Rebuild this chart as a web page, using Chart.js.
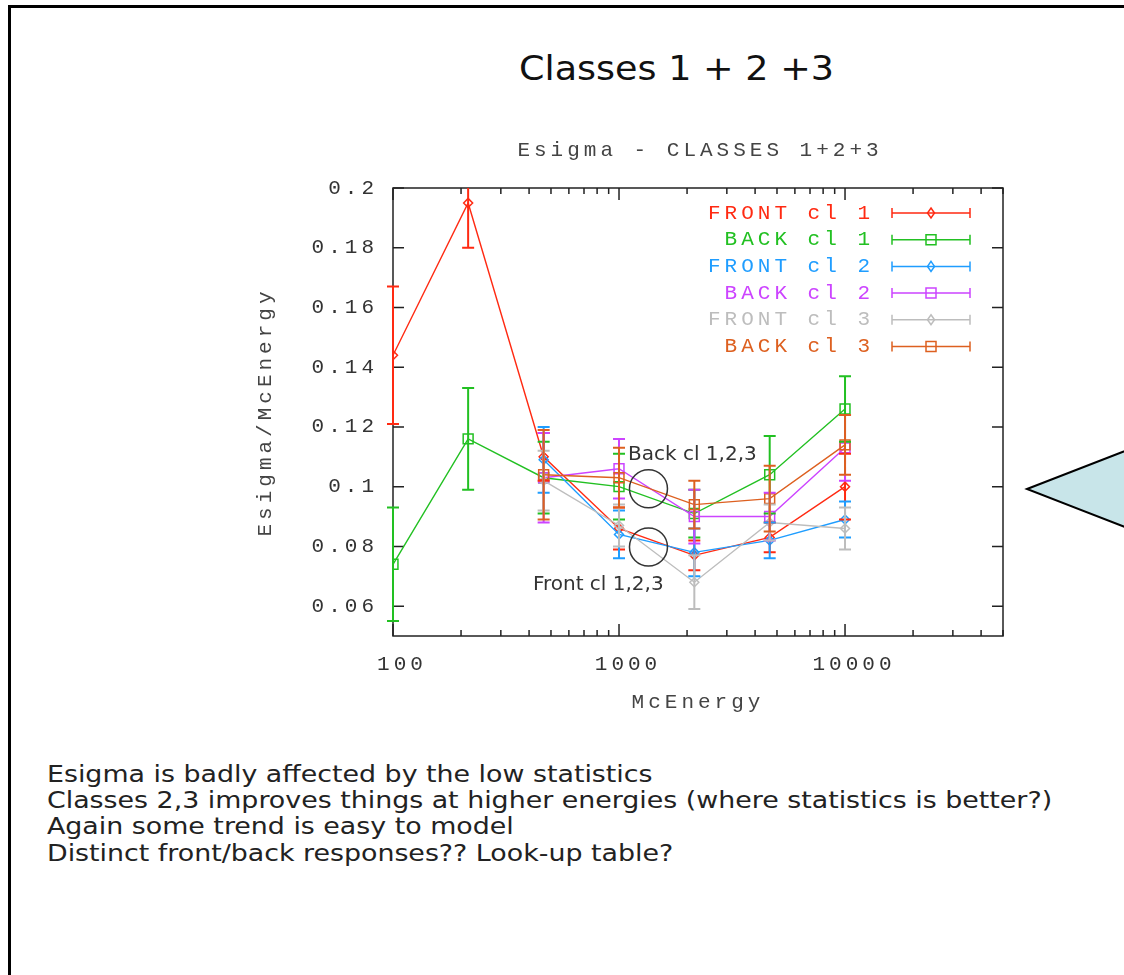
<!DOCTYPE html>
<html>
<head>
<meta charset="utf-8">
<title>Classes 1 + 2 +3</title>
<script src="https://cdn.jsdelivr.net/npm/chart.js@4.4.1/dist/chart.umd.min.js"></script>
<style>
  html, body { margin: 0; padding: 0; background: #fff; }
  body { width: 1124px; height: 975px; position: relative; overflow: hidden; }
  #slide, #plot { position: absolute; left: 0; top: 0; }
</style>
</head>
<body>
<svg id="slide" width="1124" height="975" font-family="'DejaVu Sans', sans-serif">
  <path d="M9.5 990 V6.5 H1130" fill="none" stroke="#000" stroke-width="3"/>
  <polygon points="1027,489 1130,449 1130,529" fill="#c8e5e9" stroke="#000" stroke-width="2"/>
  <text x="519" y="80" font-size="34" fill="#111" textLength="315" lengthAdjust="spacingAndGlyphs">Classes 1 + 2 +3</text>
  <g font-size="23" fill="#222" transform="translate(47 0) scale(1.167 1) translate(-47 0)">
    <text x="47" y="782">Esigma is badly affected by the low statistics</text>
    <text x="47" y="808">Classes 2,3 improves things at higher energies (where statistics is better?)</text>
    <text x="47" y="834.5">Again some trend is easy to model</text>
    <text x="47" y="861">Distinct front/back responses?? Look-up table?</text>
  </g>
</svg>
<canvas id="plot" width="1124" height="975"></canvas>
<script>
// energies (McEnergy) and Esigma/McEnergy per class, with errors
const energies = [100, 215, 464, 1000, 2154, 4642, 10000];

const frontCl1    = [0.144, 0.195, 0.110, 0.086, 0.077, 0.083, 0.100];
const frontCl1Err = [0.023, 0.015, 0.008, 0.007, 0.005, 0.005, 0.011];
const backCl1     = [0.074, 0.116, 0.103, 0.100, 0.091, 0.104, 0.126];
const backCl1Err  = [0.019, 0.017, 0.012, 0.011, 0.008, 0.013, 0.011];
const frontCl2    = [null, null, 0.109, 0.084, 0.078, 0.082, 0.089];
const frontCl2Err = [null, null, 0.011, 0.008, 0.008, 0.006, 0.006];
const backCl2     = [null, null, 0.103, 0.106, 0.090, 0.090, 0.113];
const backCl2Err  = [null, null, 0.015, 0.010, 0.009, 0.008, 0.011];
const frontCl3    = [null, null, 0.102, 0.087, 0.068, 0.088, 0.086];
const frontCl3Err = [null, null, 0.010, 0.007, 0.009, 0.006, 0.007];
const backCl3     = [null, null, 0.104, 0.103, 0.094, 0.096, 0.114];
const backCl3Err  = [null, null, 0.015, 0.010, 0.008, 0.011, 0.010];

const seriesNames = ['FRONT cl 1', 'BACK cl 1', 'FRONT cl 2', 'BACK cl 2', 'FRONT cl 3', 'BACK cl 3'];
const seriesValues = [frontCl1, backCl1, frontCl2, backCl2, frontCl3, backCl3];
const seriesErrors = [frontCl1Err, backCl1Err, frontCl2Err, backCl2Err, frontCl3Err, backCl3Err];
const seriesColors = ['#ff2a12', '#22c022', '#1f9dff', '#cc44ff', '#bdbdbd', '#dd6020'];

const yTicks = [0.06, 0.08, 0.1, 0.12, 0.14, 0.16, 0.18, 0.2];
const yTickLabels = ['0.06', '0.08', '0.1', '0.12', '0.14', '0.16', '0.18', '0.2'];
const xTicks = [100, 1000, 10000];
const xTickLabels = ['100', '1000', '10000'];

const notes = [
  { text: 'Back cl 1,2,3', x: 1096, y: 0.109 },
  { text: 'Front cl 1,2,3', x: 416, y: 0.0654 }
];
const rings = [
  { x: 1350, y: 0.0993 },
  { x: 1350, y: 0.0798 }
];

const MONO = "'Liberation Mono', monospace";
const MONO_SIZE = 21;
const SPACING = '4px';

function isFront(i) { return seriesNames[i].startsWith('FRONT'); }

function marker(ctx, front, x, y) {
  ctx.beginPath();
  if (front) {
    ctx.moveTo(x, y - 5); ctx.lineTo(x + 3.5, y); ctx.lineTo(x, y + 5); ctx.lineTo(x - 3.5, y);
    ctx.closePath();
  } else {
    ctx.rect(x - 5, y - 5, 10, 10);
  }
  ctx.stroke();
}

const gnuplotLook = {
  id: 'gnuplotLook',
  beforeDraw(chart) {
    chart.ctx.letterSpacing = SPACING;
  },
  beforeDatasetsDraw(chart) {
    const { ctx, chartArea: a, scales: { x, y } } = chart;
    ctx.letterSpacing = '0px';
    ctx.save();
    ctx.strokeStyle = '#222';
    ctx.lineWidth = 1.5;
    ctx.strokeRect(a.left, a.top, a.right - a.left, a.bottom - a.top);
    ctx.beginPath();
    yTicks.forEach(v => {
      const py = y.getPixelForValue(v);
      ctx.moveTo(a.left, py); ctx.lineTo(a.left + 11, py);
      ctx.moveTo(a.right, py); ctx.lineTo(a.right - 11, py);
    });
    // log ticks: long on decades, short in between
    for (let d = 100; d <= 10000; d *= 10) {
      for (let m = 1; m <= 9; m++) {
        const v = d * m;
        if (v > x.max) break;
        const px = x.getPixelForValue(v);
        const len = m === 1 ? 12 : 6;
        ctx.moveTo(px, a.bottom); ctx.lineTo(px, a.bottom - len);
        ctx.moveTo(px, a.top); ctx.lineTo(px, a.top + len);
      }
    }
    ctx.stroke();
    ctx.restore();
  },
  afterDatasetsDraw(chart) {
    const { ctx, chartArea: a, scales: { x, y } } = chart;
    ctx.save();
    ctx.beginPath();
    ctx.rect(a.left - 10, a.top, a.right - a.left + 20, a.bottom - a.top);
    ctx.clip();
    chart.data.datasets.forEach((ds, i) => {
      ctx.strokeStyle = ds.borderColor;
      ctx.lineWidth = 2;
      ctx.beginPath();
      ds.data.forEach(p => {
        const px = x.getPixelForValue(p.x);
        const hi = y.getPixelForValue(p.y + p.err);
        const lo = y.getPixelForValue(p.y - p.err);
        ctx.moveTo(px, hi); ctx.lineTo(px, lo);
        ctx.moveTo(px - 6, hi); ctx.lineTo(px + 6, hi);
        ctx.moveTo(px - 6, lo); ctx.lineTo(px + 6, lo);
      });
      ctx.stroke();
    });
    ctx.restore();

    ctx.save();
    ctx.strokeStyle = '#333';
    ctx.lineWidth = 1.5;
    rings.forEach(r => {
      ctx.beginPath();
      ctx.arc(x.getPixelForValue(r.x), y.getPixelForValue(r.y), 19, 0, Math.PI * 2);
      ctx.stroke();
    });
    ctx.fillStyle = '#333';
    ctx.font = "20px 'DejaVu Sans', sans-serif";
    ctx.textBaseline = 'alphabetic';
    notes.forEach(n => ctx.fillText(n.text, x.getPixelForValue(n.x), y.getPixelForValue(n.y)));
    ctx.restore();
  },
  afterDraw(chart) {
    const { ctx, chartArea: a } = chart;
    ctx.save();
    ctx.letterSpacing = SPACING;
    ctx.font = MONO_SIZE + 'px ' + MONO;
    ctx.textBaseline = 'middle';
    ctx.textAlign = 'center';
    ctx.fillStyle = '#444';
    ctx.fillText('Esigma - CLASSES 1+2+3', (a.left + a.right) / 2 + 2, 150);

    // key box in the upper right corner
    ctx.textAlign = 'right';
    chart.data.datasets.forEach((ds, i) => {
      const cy = a.top + 25 + i * 26.7;
      ctx.fillStyle = ds.borderColor;
      ctx.fillText(ds.label, a.right - 129, cy);
      const x0 = a.right - 111, x1 = a.right - 33;
      ctx.strokeStyle = ds.borderColor;
      ctx.lineWidth = 1.5;
      ctx.beginPath();
      ctx.moveTo(x0, cy); ctx.lineTo(x1, cy);
      ctx.moveTo(x0, cy - 5); ctx.lineTo(x0, cy + 5);
      ctx.moveTo(x1, cy - 5); ctx.lineTo(x1, cy + 5);
      ctx.stroke();
      marker(ctx, isFront(i), (x0 + x1) / 2, cy);
    });
    ctx.restore();
    ctx.letterSpacing = '0px';
  }
};

const datasets = seriesNames.map((name, i) => ({
  label: name,
  data: energies
    .map((e, j) => ({ x: e, y: seriesValues[i][j], err: seriesErrors[i][j] }))
    .filter(p => p.y !== null),
  borderColor: seriesColors[i],
  backgroundColor: 'transparent',
  borderWidth: 1.4,
  pointStyle: isFront(i) ? 'rectRot' : 'rect',
  pointRadius: isFront(i) ? 4.5 : 7,
  pointBorderWidth: 1.5,
  pointBackgroundColor: 'transparent',
  order: seriesNames.length - i
}));

const Y_W = 140, X_H = 80;

new Chart(document.getElementById('plot'), {
  type: 'line',
  data: { datasets },
  plugins: [gnuplotLook],
  options: {
    responsive: false,
    animation: false,
    events: [],
    layout: { padding: { left: 393 - Y_W, top: 188, right: 121, bottom: 975 - 636 - X_H } },
    plugins: { legend: { display: false }, tooltip: { enabled: false } },
    scales: {
      x: {
        type: 'logarithmic',
        min: 100,
        max: 50000,
        afterBuildTicks: s => { s.ticks = xTicks.map(v => ({ value: v })); },
        afterFit: s => { s.height = X_H; },
        grid: { display: false, drawTicks: false },
        border: { display: false },
        ticks: {
          autoSkip: false, maxRotation: 0, padding: 16, labelOffset: 9,
          color: '#333', font: { family: MONO, size: MONO_SIZE },
          callback: (v, idx) => xTickLabels[idx]
        },
        title: {
          display: true, text: 'McEnergy', color: '#444',
          font: { family: MONO, size: MONO_SIZE }, padding: { top: 0, bottom: 1 }
        }
      },
      y: {
        type: 'linear',
        min: 0.05,
        max: 0.2,
        afterBuildTicks: s => { s.ticks = yTicks.map(v => ({ value: v })); },
        afterFit: s => { s.width = Y_W; },
        grid: { display: false, drawTicks: false },
        border: { display: false },
        ticks: {
          padding: 15,
          color: '#333', font: { family: MONO, size: MONO_SIZE },
          callback: (v, idx) => yTickLabels[idx]
        },
        title: {
          display: true, text: 'Esigma/McEnergy', color: '#444',
          font: { family: MONO, size: MONO_SIZE }, padding: { top: 0, bottom: 0 }
        }
      }
    }
  }
});
</script>
</body>
</html>
